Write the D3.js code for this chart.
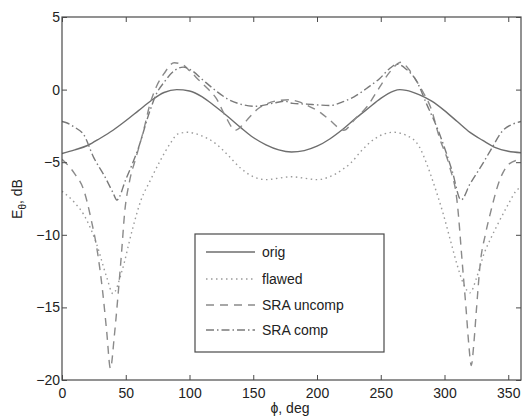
<!DOCTYPE html>
<html>
<head>
<meta charset="utf-8">
<script src="https://cdn.jsdelivr.net/npm/d3@7"></script>
<style>
  body { margin: 0; background: #fff; }
  svg { font-family: "Liberation Sans", Arial, sans-serif; }
</style>
</head>
<body>
<svg width="525" height="419"></svg>
<script>
// [phi in deg, E in dB]
let orig = [[0,-4.4],[10,-4.15],[20,-3.85],[30,-3.35],[40,-2.8],[50,-2.15],[60,-1.45],[70,-0.75],[80,-0.2],[90,0],[100,-0.1],[110,-0.5],[120,-1.15],[130,-1.85],[140,-2.6],[150,-3.3],[160,-3.8],[170,-4.15],[180,-4.3],[190,-4.2],[200,-3.9],[210,-3.4],[220,-2.75],[230,-2.0],[240,-1.3],[250,-0.6],[260,-0.1],[265,0],[270,-0.05],[280,-0.35],[290,-0.8],[300,-1.45],[310,-2.2],[320,-2.95],[330,-3.5],[340,-4.0],[350,-4.25],[360,-4.35]]
let flawed = [[0,-7.0],[10,-7.8],[17,-8.6],[27,-10.6],[35,-12.9],[40,-14.05],[47,-12.5],[55,-9.7],[62,-7.6],[69,-6.3],[77,-4.9],[85,-3.7],[91,-3.05],[98,-2.94],[110,-3.2],[121,-3.75],[130,-4.5],[140,-5.4],[150,-6.0],[160,-6.2],[170,-6.1],[180,-6.0],[190,-6.1],[200,-6.2],[210,-6.0],[220,-5.5],[226,-5.1],[235,-4.2],[245,-3.4],[260,-2.94],[270,-3.15],[280,-3.9],[286,-5.1],[292,-6.6],[299,-8.56],[305,-10.5],[310,-12.1],[315,-13.4],[320,-14.0],[325,-13.0],[331,-11.3],[336,-10.3],[341,-9.4],[350,-7.9],[356,-7.0],[360,-6.7]]
let sraUncomp = [[0,-4.8],[10,-5.8],[17,-6.9],[23,-9.0],[28,-11.3],[32,-14.0],[35,-16.6],[38,-19.2],[41,-17.0],[44,-14.1],[47,-10.9],[49,-8.6],[53,-6.3],[58,-4.7],[64,-2.8],[69,-1.0],[74,0.2],[80,1.1],[88,1.85],[95,1.7],[100,1.3],[108,0.6],[115,0.0],[121,-0.6],[128,-1.8],[136,-2.8],[142,-2.4],[147,-1.9],[154,-1.3],[160,-1.0],[170,-0.75],[178,-0.7],[186,-0.85],[195,-1.2],[203,-1.6],[210,-2.1],[221,-2.8],[230,-2.0],[239,-1.2],[249,0.15],[257,1.2],[266,1.88],[272,1.4],[278,0.6],[284,-0.3],[289,-1.2],[296,-3.3],[304,-5.3],[310,-7.8],[314,-12.0],[317,-15.2],[319,-17.5],[321,-19.0],[323,-17.5],[325,-15.2],[328,-12.0],[332,-10.0],[336,-8.5],[343,-6.3],[351,-5.1],[360,-4.8]]
let sraComp = [[0,-2.2],[4,-2.3],[10,-2.6],[17,-3.1],[25,-4.7],[33,-5.9],[40,-7.1],[43,-7.6],[50,-6.2],[60,-4.0],[69,-1.45],[74,-0.3],[80,0.5],[88,1.3],[95,1.55],[102,1.3],[110,0.7],[121,-0.1],[130,-0.65],[140,-1.0],[152,-1.15],[165,-0.95],[175,-0.8],[181,-0.95],[192,-1.0],[200,-1.05],[210,-1.1],[220,-0.85],[229,-0.5],[240,0.15],[249,0.75],[257,1.45],[263,1.75],[270,1.4],[278,0.6],[286,-1.0],[295,-2.8],[300,-4.0],[306,-5.6],[313,-7.6],[320,-6.5],[330,-5.1],[336,-4.2],[346,-2.8],[354,-2.36],[360,-2.2]]

let xTicks = [0, 50, 100, 150, 200, 250, 300, 350]
let yTicks = [-20, -15, -10, -5, 0, 5]
let seriesNames = ['orig', 'flawed', 'SRA uncomp', 'SRA comp']

let styles = [
    { stroke: '#6e6e6e', dash: null, w: 1.4 },
    { stroke: '#9a9a9a', dash: '1.5,3.5', w: 1.4 },
    { stroke: '#8a8a8a', dash: '8,6', w: 1.4 },
    { stroke: '#7a7a7a', dash: '8,3,1.5,3', w: 1.4 }
]

let svg = d3.select('svg')
let pL = 62, pR = 521, pT = 17, pB = 380

let x = d3.scaleLinear().domain([0, 360]).range([pL, pR])
let y = d3.scaleLinear().domain([-20, 5]).range([pB, pT])

let plot = svg.append('g')
plot.append('defs').append('clipPath').attr('id', 'clip')
    .append('rect').attr('x', pL).attr('y', pT)
    .attr('width', pR - pL).attr('height', pB - pT)

let line = d3.line()
    .x(d => x(d[0]))
    .y(d => y(d[1]))
    .curve(d3.curveMonotoneX)

let allSeries = [orig, flawed, sraUncomp, sraComp]

plot.append('g').attr('clip-path', 'url(#clip)')
    .selectAll('path')
    .data(allSeries)
    .enter()
    .append('path')
    .attr('d', line)
    .attr('fill', 'none')
    .attr('stroke', (d, i) => styles[i].stroke)
    .attr('stroke-width', (d, i) => styles[i].w)
    .attr('stroke-dasharray', (d, i) => styles[i].dash)

// axes, matlab style: ticks inside on all sides
let axisColor = '#4a4a4a'
let tickLen = 5

svg.append('g').attr('transform', 'translate(0,' + pB + ')')
    .call(d3.axisBottom(x).tickValues(xTicks).tickSize(-tickLen).tickPadding(8))
svg.append('g').attr('transform', 'translate(0,' + pT + ')')
    .call(d3.axisTop(x).tickValues(xTicks).tickSize(-tickLen).tickFormat(''))
svg.append('g').attr('transform', 'translate(' + pL + ',0)')
    .call(d3.axisLeft(y).tickValues(yTicks).tickSize(-tickLen).tickPadding(2)
        .tickFormat(d => d < 0 ? '\u2212' + Math.abs(d) : d))
svg.append('g').attr('transform', 'translate(' + pR + ',0)')
    .call(d3.axisRight(y).tickValues(yTicks).tickSize(-tickLen).tickFormat(''))

svg.selectAll('.domain').remove()
svg.selectAll('.tick line').attr('stroke', axisColor).attr('stroke-width', 1)
svg.selectAll('.tick text').attr('fill', '#222').style('font-size', '14px')

svg.append('rect')
    .attr('x', pL).attr('y', pT)
    .attr('width', pR - pL).attr('height', pB - pT)
    .attr('fill', 'none')
    .attr('stroke', axisColor)
    .attr('stroke-width', 1.2)

// axis titles
svg.append('text')
    .attr('x', 290).attr('y', 413)
    .attr('text-anchor', 'middle')
    .attr('fill', '#222')
    .style('font-size', '14px')
    .text('\u03d5, deg')

let yt = svg.append('text')
    .attr('transform', 'translate(22,199) rotate(-90)')
    .attr('text-anchor', 'middle')
    .attr('fill', '#222')
    .style('font-size', '14px')
yt.append('tspan').text('E')
yt.append('tspan').attr('dy', 4).style('font-size', '10px').text('\u03b8')
yt.append('tspan').attr('dy', -4).text(', dB')

// legend
let legend = svg.append('g')
legend.append('rect')
    .attr('x', 195).attr('y', 234)
    .attr('width', 189).attr('height', 118)
    .attr('fill', '#fff')
    .attr('stroke', axisColor)
    .attr('stroke-width', 1.2)

let rowY = [252, 279, 305, 330]
let rows = legend.selectAll('g.row')
    .data(seriesNames)
    .enter()
    .append('g')
    .attr('class', 'row')
    .attr('transform', (d, i) => 'translate(0,' + rowY[i] + ')')
rows.append('line')
    .attr('x1', 206).attr('x2', 255)
    .attr('y1', 0).attr('y2', 0)
    .attr('stroke', (d, i) => styles[i].stroke)
    .attr('stroke-width', (d, i) => styles[i].w)
    .attr('stroke-dasharray', (d, i) => styles[i].dash)
rows.append('text')
    .attr('x', 262).attr('y', 0).attr('dy', '0.35em')
    .attr('fill', '#222')
    .style('font-size', '14px')
    .text(d => d)
</script>
</body>
</html>
